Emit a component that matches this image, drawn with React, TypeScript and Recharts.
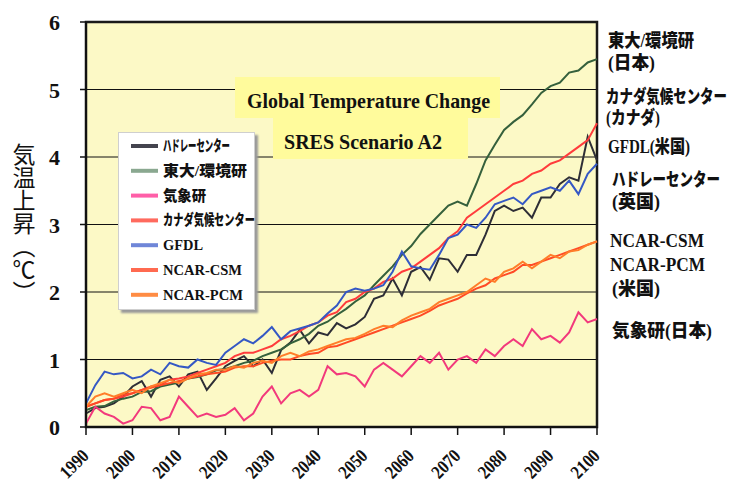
import { CartesianGrid, Line, LineChart, ReferenceArea, XAxis, YAxis } from "recharts";

const years = [
  1990, 1992, 1994, 1996, 1998, 2000, 2002, 2004, 2006, 2008, 2010, 2012, 2014, 2016,
  2018, 2020, 2022, 2024, 2026, 2028, 2030, 2032, 2034, 2036, 2038, 2040, 2042, 2044,
  2046, 2048, 2050, 2052, 2054, 2056, 2058, 2060, 2062, 2064, 2066, 2068, 2070, 2072,
  2074, 2076, 2078, 2080, 2082, 2084, 2086, 2088, 2090, 2092, 2094, 2096, 2098, 2100
];

const hadley = [
  0.2, 0.28, 0.3, 0.35, 0.45, 0.6, 0.68, 0.45, 0.7, 0.75, 0.6, 0.78, 0.82, 0.55,
  0.72, 0.9, 0.98, 1.05, 0.9, 1.0, 0.8, 1.14, 1.25, 1.44, 1.24, 1.4, 1.36, 1.54,
  1.46, 1.52, 1.63, 1.9, 1.95, 2.2, 1.95, 2.3, 2.37, 2.18, 2.5, 2.48, 2.3, 2.55,
  2.55, 2.85, 3.2, 3.28, 3.2, 3.25, 3.1, 3.4, 3.4, 3.6, 3.7, 3.65, 4.3, 3.95
];

const ccsrNies = [
  0.25, 0.3, 0.31, 0.38, 0.42, 0.45, 0.52, 0.53, 0.6, 0.63, 0.66, 0.72, 0.74, 0.78,
  0.84, 0.86, 0.9, 0.95, 0.98, 1.05, 1.1, 1.15, 1.24, 1.3, 1.38, 1.5, 1.56, 1.66,
  1.75, 1.86, 1.95, 2.1, 2.24, 2.38, 2.55, 2.68, 2.86, 3.0, 3.14, 3.28, 3.34, 3.28,
  3.6, 3.95, 4.18, 4.4, 4.52, 4.62, 4.78, 4.95, 5.05, 5.1, 5.25, 5.28, 5.4, 5.45
];

const mri = [
  0.05, 0.3, 0.2, 0.15, 0.05, 0.1, 0.3, 0.28, 0.1, 0.15, 0.45, 0.3, 0.15, 0.2,
  0.15, 0.18, 0.28, 0.1, 0.2, 0.45, 0.6, 0.35, 0.5, 0.55, 0.45, 0.55, 0.9, 0.78,
  0.8, 0.75, 0.6, 0.85, 0.95, 0.85, 0.75, 0.9, 1.05, 0.95, 1.1, 0.85, 1.0, 1.05,
  0.95, 1.15, 1.05, 1.2, 1.3, 1.2, 1.45, 1.3, 1.35, 1.25, 1.4, 1.7, 1.55, 1.6
];

const cccma = [
  0.3, 0.35, 0.4, 0.42, 0.45, 0.5, 0.55, 0.6, 0.62, 0.7, 0.72, 0.75, 0.8, 0.85,
  0.9, 0.95, 1.05, 1.1, 1.1, 1.15, 1.2, 1.3, 1.35, 1.42, 1.5, 1.55, 1.65, 1.7,
  1.85, 1.9, 2.0, 2.05, 2.15, 2.2, 2.3, 2.35, 2.45, 2.55, 2.65, 2.8, 2.9, 3.1,
  3.2, 3.3, 3.4, 3.5, 3.6, 3.65, 3.75, 3.8, 3.9, 3.95, 4.05, 4.15, 4.25, 4.5
];

const gfdl = [
  0.35, 0.62, 0.82, 0.78, 0.8, 0.72, 0.75, 0.85, 0.78, 0.95, 0.9, 0.88, 1.0, 0.95,
  0.92, 1.1, 1.2, 1.3, 1.24, 1.35, 1.48, 1.3, 1.42, 1.46, 1.5, 1.55, 1.68, 1.8,
  2.0, 2.05, 2.02, 2.05, 2.1, 2.3, 2.6, 2.38, 2.35, 2.33, 2.55, 2.8, 2.85, 3.0,
  2.95, 3.1, 3.3, 3.35, 3.4, 3.3, 3.45, 3.5, 3.55, 3.5, 3.65, 3.45, 3.75, 3.9
];

const ncarCsm = [
  0.3, 0.35, 0.4, 0.42, 0.48, 0.5, 0.55, 0.58, 0.62, 0.65, 0.68, 0.72, 0.75, 0.78,
  0.8, 0.82, 0.88, 0.9, 0.9, 0.95, 0.98, 1.0, 1.0, 1.05, 1.08, 1.1, 1.18, 1.2,
  1.25, 1.3, 1.35, 1.4, 1.45, 1.5, 1.55, 1.6, 1.65, 1.72, 1.8, 1.85, 1.9, 1.98,
  2.05, 2.1, 2.2, 2.25, 2.3, 2.4, 2.4, 2.45, 2.5, 2.55, 2.6, 2.65, 2.7, 2.75
];

const ncarPcm = [
  0.3, 0.45, 0.5, 0.45, 0.5, 0.55, 0.5, 0.6, 0.65, 0.7, 0.65, 0.72, 0.78, 0.8,
  0.85, 0.85, 0.9, 0.88, 0.95, 0.98, 0.95, 1.05, 1.1, 1.05, 1.12, 1.15, 1.2, 1.25,
  1.3, 1.32, 1.38, 1.45, 1.5, 1.48, 1.58, 1.65, 1.7, 1.75, 1.85, 1.9, 1.95, 2.0,
  2.1, 2.2, 2.15, 2.3, 2.35, 2.45, 2.35, 2.45, 2.55, 2.5, 2.6, 2.62, 2.7, 2.75
];

const xTicks = [1990, 2000, 2010, 2020, 2030, 2040, 2050, 2060, 2070, 2080, 2090, 2100];
const yTicks = [0, 1, 2, 3, 4, 5, 6];

// legend order; plot colour, legend swatch colour, squeezed label width
const series = [
  { key: "hadley", name: "ハドレーセンター", color: "#2e2e36", swatch: "#44444e", w: 67 },
  { key: "ccsrNies", name: "東大/環境研", color: "#35603c", swatch: "#8aa890", w: 84 },
  { key: "mri", name: "気象研", color: "#f2397c", swatch: "#ff5fa8", w: 43 },
  { key: "cccma", name: "カナダ気候センター", color: "#ff3c3c", swatch: "#ff6a5e", w: 92 },
  { key: "gfdl", name: "GFDL", color: "#3558c4", swatch: "#6f86d8", w: 40 },
  { key: "ncarCsm", name: "NCAR-CSM", color: "#ff4a26", swatch: "#ff6a50", w: 79 },
  { key: "ncarPcm", name: "NCAR-PCM", color: "#ff7d2a", swatch: "#ff8c44", w: 80 }
];

const data = years.map((year, i) => ({
  year,
  hadley: hadley[i],
  ccsrNies: ccsrNies[i],
  mri: mri[i],
  cccma: cccma[i],
  gfdl: gfdl[i],
  ncarCsm: ncarCsm[i],
  ncarPcm: ncarPcm[i]
}));

const FONT = '"Liberation Serif", "Noto Sans CJK JP", serif';

// right-hand model labels: left x, baseline y, squeezed width
const sideLabels = [
  { text: "東大/環境研", x: 608, y: 47, w: 86 },
  { text: "(日本)", x: 608, y: 69, w: 47 },
  { text: "カナダ気候センター", x: 606, y: 103, w: 121 },
  { text: "(カナダ)", x: 606, y: 124, w: 54 },
  { text: "GFDL(米国)", x: 608, y: 153, w: 82 },
  { text: "ハドレーセンター", x: 612, y: 186, w: 108 },
  { text: "(英国)", x: 612, y: 208, w: 48 },
  { text: "NCAR-CSM", x: 610, y: 247, w: 94 },
  { text: "NCAR-PCM", x: 610, y: 271, w: 95 },
  { text: "(米国)", x: 612, y: 295, w: 48 },
  { text: "気象研(日本)", x: 612, y: 337, w: 100 }
];

function YTick({ x, y, payload }: any) {
  return (
    <text x={x - 8} y={y} dy={8} textAnchor="end" fontFamily={FONT} fontWeight="bold" fontSize={22} fill="#111">
      {payload.value}
    </text>
  );
}

// year labels, slanted up to the right, ending just under each tick
function XTick({ x, payload }: any) {
  const tx = x + 4;
  const ty = 457;
  return (
    <text
      x={tx}
      y={ty}
      textAnchor="end"
      transform={`rotate(-45 ${tx} ${ty})`}
      fontFamily={FONT}
      fontWeight="bold"
      fontSize={19}
      textLength={32}
      lengthAdjust="spacingAndGlyphs"
      fill="#111"
    >
      {payload.value}
    </text>
  );
}

function LegendBox() {
  return (
    <div
      style={{
        position: "absolute",
        left: 118,
        top: 132,
        width: 137,
        height: 178,
        background: "#fff",
        border: "1px solid #cfcfcf",
        boxShadow: "3px 3px 2px #9a9a9a",
        boxSizing: "border-box"
      }}
    >
      <svg width={137} height={178} style={{ position: "absolute", left: -1, top: -1, overflow: "visible" }}>
        {series.map((s, i) => {
          const cy = 14 + i * 24.8;
          return (
            <g key={s.key}>
              <line x1={13} x2={40} y1={cy} y2={cy} stroke={s.swatch} strokeWidth={4} />
              <text
                x={45}
                y={cy + 5}
                fontFamily={FONT}
                fontWeight={900}
                fontSize={15}
                textLength={s.w}
                lengthAdjust="spacingAndGlyphs"
                fill="#111"
              >
                {s.name}
              </text>
            </g>
          );
        })}
      </svg>
    </div>
  );
}

const titleBox = {
  position: "absolute" as const,
  background: "#fffb9c"
};

export default function App() {
  return (
    <div style={{ position: "absolute", left: 0, top: 0, width: 734, height: 482, background: "#fff", overflow: "hidden" }}>
      <LineChart width={734} height={482} data={data} margin={{ top: 22, right: 137, bottom: 0, left: 30 }}>
        <CartesianGrid fill="#fcf9c6" stroke="#111" strokeWidth={1} vertical={false} />
        <XAxis
          dataKey="year"
          type="number"
          domain={[1990, 2100]}
          ticks={xTicks}
          height={55}
          tickSize={8}
          tickMargin={2}
          tick={<XTick />}
          axisLine={{ stroke: "#111", strokeWidth: 2 }}
          tickLine={{ stroke: "#111", strokeWidth: 1.5 }}
          interval={0}
        />
        <YAxis
          type="number"
          domain={[0, 6]}
          ticks={yTicks}
          width={56}
          tickSize={6}
          tickMargin={12}
          tick={<YTick />}
          axisLine={{ stroke: "#111", strokeWidth: 2 }}
          tickLine={{ stroke: "#111", strokeWidth: 1.5 }}
          interval={0}
        />
        <ReferenceArea x1={1990} x2={2100} y1={0} y2={6} fill="none" stroke="#1a1a1a" strokeWidth={2.5} ifOverflow="visible" />
        {series.map((s) => (
          <Line
            key={s.key}
            dataKey={s.key}
            name={s.name}
            type="linear"
            stroke={s.color}
            strokeWidth={2}
            dot={false}
            isAnimationActive={false}
          />
        ))}
      </LineChart>

      <LegendBox />

      <div style={{ ...titleBox, left: 235, top: 77, width: 265, height: 41 }} />
      <div style={{ ...titleBox, left: 273, top: 118, width: 195, height: 41 }} />

      <svg width={734} height={482} style={{ position: "absolute", left: 0, top: 0, pointerEvents: "none" }}>
        <text x={247} y={108} fontFamily={FONT} fontWeight="bold" fontSize={22} textLength={243} lengthAdjust="spacingAndGlyphs" fill="#111">
          Global Temperature Change
        </text>
        <text x={284} y={149} fontFamily={FONT} fontWeight="bold" fontSize={22} textLength={158} lengthAdjust="spacingAndGlyphs" fill="#111">
          SRES Scenario A2
        </text>
        {sideLabels.map((l) => (
          <text
            key={l.text + l.y}
            x={l.x}
            y={l.y}
            fontFamily={FONT}
            fontWeight={900}
            fontSize={18}
            textLength={l.w}
            lengthAdjust="spacingAndGlyphs"
            fill="#111"
          >
            {l.text}
          </text>
        ))}
      </svg>

      <div
        style={{
          position: "absolute",
          left: 10,
          top: 143,
          writingMode: "vertical-rl",
          fontFamily: '"Noto Sans CJK JP", sans-serif',
          fontSize: 23,
          lineHeight: "28px",
          color: "#111"
        }}
      >
        気温上昇（℃）
      </div>
    </div>
  );
}
